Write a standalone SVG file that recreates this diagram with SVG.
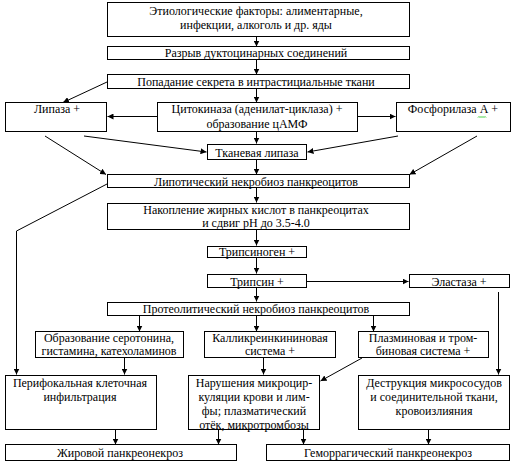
<svg xmlns="http://www.w3.org/2000/svg" width="515" height="465" viewBox="0 0 515 465">
<defs>
<marker id="ah" markerUnits="userSpaceOnUse" markerWidth="7" markerHeight="6" refX="6" refY="3" orient="auto">
<path d="M0,0 L6,3 L0,6 z" fill="#000"/>
</marker>
<style>
rect{fill:#fff;stroke:#000;stroke-width:1}
text{font-family:"Liberation Serif","Times New Roman","DejaVu Serif",serif;font-size:12px;fill:#000;text-anchor:middle}
#connectors line,#connectors polyline{stroke:#000;stroke-width:1;fill:none;marker-end:url(#ah)}
</style>
</defs>
<rect x="0" y="0" width="515" height="465" style="stroke:none"/>
<g id="connectors">
<line x1="256.5" y1="37" x2="256.5" y2="46.5"/>
<line x1="256.5" y1="60" x2="256.5" y2="74.5"/>
<line x1="256.5" y1="89" x2="256.5" y2="102.5"/>
<line x1="107" y1="82" x2="63" y2="102.5"/>
<line x1="157" y1="116.5" x2="107.5" y2="116.5"/>
<line x1="358" y1="116.5" x2="395.5" y2="116.5"/>
<line x1="45" y1="136" x2="106" y2="174.5"/>
<line x1="84" y1="136" x2="206.5" y2="152"/>
<line x1="398" y1="136" x2="307.5" y2="152"/>
<line x1="477" y1="136" x2="409.5" y2="174.5"/>
<line x1="256.5" y1="132" x2="256.5" y2="143.5"/>
<line x1="256.5" y1="160" x2="256.5" y2="174.5"/>
<line x1="256.5" y1="188" x2="256.5" y2="202.5"/>
<line x1="256.5" y1="230" x2="256.5" y2="245.5"/>
<line x1="256.5" y1="258" x2="256.5" y2="273.5"/>
<line x1="307" y1="281.5" x2="408.5" y2="281.5"/>
<line x1="256.5" y1="288" x2="256.5" y2="301.5"/>
<line x1="139.5" y1="316" x2="139.5" y2="331.5"/>
<line x1="256.5" y1="316" x2="256.5" y2="331.5"/>
<line x1="373.5" y1="316" x2="373.5" y2="331.5"/>
<polyline points="107,184 16.5,231 16.5,374.5"/>
<line x1="498.5" y1="292" x2="498.5" y2="374.5"/>
<line x1="124.5" y1="358" x2="124.5" y2="374.5"/>
<line x1="263.5" y1="358" x2="263.5" y2="374.5"/>
<line x1="362" y1="358" x2="320.5" y2="381"/>
<line x1="115.5" y1="430" x2="115.5" y2="444.5"/>
<line x1="218.5" y1="430" x2="218.5" y2="444.5"/>
<line x1="303.5" y1="430" x2="303.5" y2="444.5"/>
<line x1="428.5" y1="430" x2="428.5" y2="444.5"/>
</g>
<g id="n1"><rect x="107.5" y="2.5" width="302" height="34"/><text x="256" y="15">Этиологические факторы: алиментарные,</text><text x="256" y="29">инфекции, алкоголь и др. яды</text></g>
<g id="n2"><rect x="107.5" y="46.5" width="302" height="13"/><text x="256" y="57">Разрыв дуктоцинарных соединений</text></g>
<g id="n3"><rect x="107.5" y="74.5" width="302" height="14"/><text x="256" y="86">Попадание секрета в интрастициальные ткани</text></g>
<g id="n4"><rect x="5.5" y="102.5" width="101" height="29"/><text x="57" y="113">Липаза +</text></g>
<g id="n5"><rect x="157.5" y="102.5" width="200" height="29"/><text x="257" y="113">Цитокиназа (аденилат-циклаза) +</text><text x="257" y="128">образование цАМФ</text></g>
<g id="n6"><rect x="396.5" y="102.5" width="114" height="29"/><text x="453" y="113">Фосфорилаза А +</text><path d="M478,117.5 l1,-1 l1,1 l1,-1 l1,1 l1,-1 l1,1 l1,-1 l1,1" stroke="#3c3" stroke-width="1" fill="none"/></g>
<g id="n7"><rect x="207.5" y="144.5" width="99" height="15"/><text x="257" y="157">Тканевая липаза</text></g>
<g id="n8"><rect x="107.5" y="174.5" width="302" height="13"/><text x="256" y="186">Липотический некробиоз панкреоцитов</text></g>
<g id="n9"><rect x="107.5" y="203.5" width="302" height="26"/><text x="256" y="214">Накопление жирных кислот в панкреоцитах</text><text x="256" y="227">и сдвиг pH до 3.5-4.0</text></g>
<g id="n10"><rect x="207.5" y="246.5" width="99" height="11"/><text x="257" y="256">Трипсиноген +</text></g>
<g id="n11"><rect x="207.5" y="274.5" width="99" height="13"/><text x="257" y="286">Трипсин +</text></g>
<g id="n12"><rect x="409.5" y="274.5" width="100" height="13"/><text x="459" y="286">Эластаза +</text></g>
<g id="n13"><rect x="107.5" y="302.5" width="302" height="13"/><text x="256" y="313">Протеолитический некробиоз панкреоцитов</text></g>
<g id="n14"><rect x="35.5" y="331.5" width="148" height="26"/><text x="109" y="342">Образование серотонина,</text><text x="109" y="355">гистамина, катехоламинов</text></g>
<g id="n15"><rect x="204.5" y="331.5" width="131" height="26"/><text x="270" y="342">Калликреинкининовая</text><text x="270" y="355">система +</text></g>
<g id="n16"><rect x="358.5" y="331.5" width="130" height="26"/><text x="423" y="342">Плазминовая и тром-</text><text x="423" y="355">биновая система +</text></g>
<g id="n17"><rect x="5.5" y="375.5" width="151" height="54"/><text x="80" y="387">Перифокальная клеточная</text><text x="80" y="401">инфильтрация</text></g>
<g id="n18"><rect x="188.5" y="375.5" width="131" height="54"/><text x="254" y="387">Нарушения микроцир-</text><text x="254" y="401">куляции крови и лим-</text><text x="254" y="415">фы; плазматический</text><text x="254" y="429">отёк, микротромбозы</text></g>
<g id="n19"><rect x="358.5" y="375.5" width="151" height="54"/><text x="434" y="387">Деструкция микрососудов</text><text x="434" y="401">и соединительной ткани,</text><text x="434" y="415">кровоизлияния</text></g>
<g id="n20"><rect x="5.5" y="444.5" width="231" height="16"/><text x="120" y="457">Жировой панкреонекроз</text></g>
<g id="n21"><rect x="266.5" y="444.5" width="243" height="16"/><text x="388" y="457">Геморрагический панкреонекроз</text></g>
</svg>
